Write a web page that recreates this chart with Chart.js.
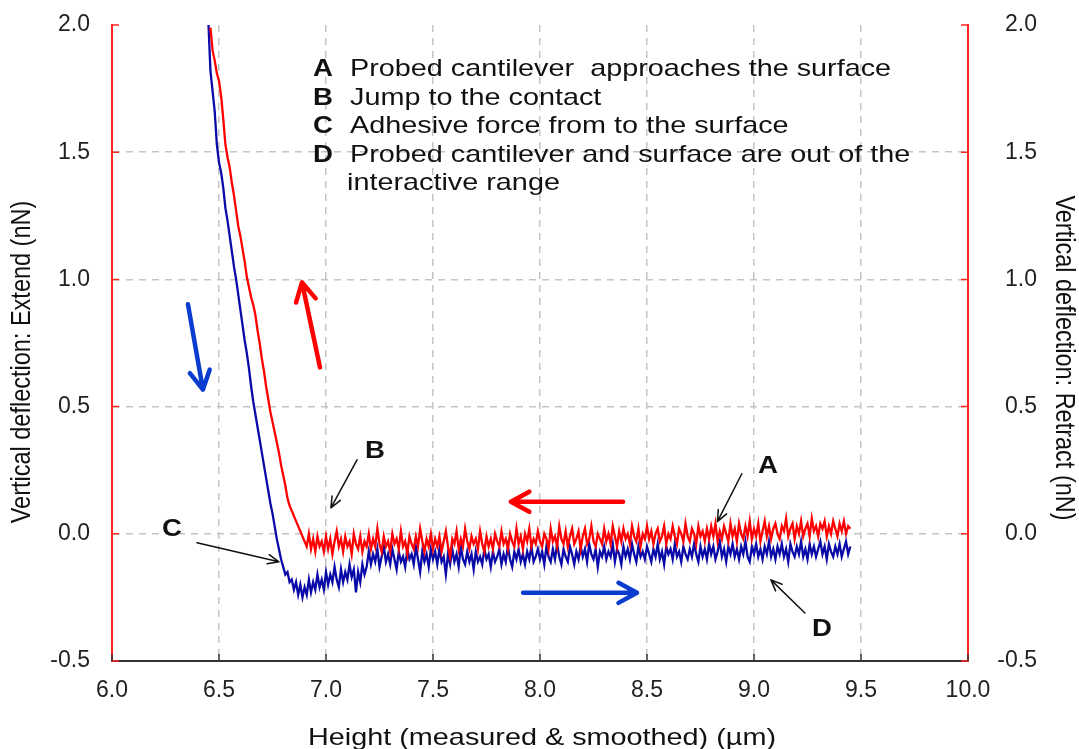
<!DOCTYPE html>
<html>
<head>
<meta charset="utf-8">
<title>Force–distance curve</title>
<script src="https://cdn.jsdelivr.net/npm/chart.js@4.4.1/dist/chart.umd.min.js"></script>
<style>
  html, body { margin: 0; padding: 0; background: #ffffff; }
  #wrap { width: 1079px; height: 749px; }
</style>
</head>
<body>
<div id="wrap"><canvas id="fd" width="1079" height="749"></canvas></div>
<script>
// Piezo height (µm) shared by both sweeps
const heightUm = [
  6.45,6.46,6.47,6.48,6.49,
  6.50,6.51,6.52,6.53,6.54,6.55,6.56,6.57,6.58,6.59,
  6.60,6.61,6.62,6.63,6.64,6.65,6.66,6.67,6.68,6.69,
  6.70,6.71,6.72,6.73,6.74,6.75,6.76,6.77,6.78,6.79,
  6.80,6.81,6.82,6.83,6.84,6.85,6.86,6.87,6.88,6.89,
  6.90,6.91,6.92,6.93,6.94,6.95,6.96,6.97,6.98,6.99,
  7.00,7.01,7.02,7.03,7.04,7.05,7.06,7.07,7.08,7.09,
  7.10,7.11,7.12,7.13,7.14,7.15,7.16,7.17,7.18,7.19,
  7.20,7.21,7.22,7.23,7.24,7.25,7.26,7.27,7.28,7.29,
  7.30,7.31,7.32,7.33,7.34,7.35,7.36,7.37,7.38,7.39,
  7.40,7.41,7.42,7.43,7.44,7.45,7.46,7.47,7.48,7.49,
  7.50,7.51,7.52,7.53,7.54,7.55,7.56,7.57,7.58,7.59,
  7.60,7.61,7.62,7.63,7.64,7.65,7.66,7.67,7.68,7.69,
  7.70,7.71,7.72,7.73,7.74,7.75,7.76,7.77,7.78,7.79,
  7.80,7.81,7.82,7.83,7.84,7.85,7.86,7.87,7.88,7.89,
  7.90,7.91,7.92,7.93,7.94,7.95,7.96,7.97,7.98,7.99,
  8.00,8.01,8.02,8.03,8.04,8.05,8.06,8.07,8.08,8.09,
  8.10,8.11,8.12,8.13,8.14,8.15,8.16,8.17,8.18,8.19,
  8.20,8.21,8.22,8.23,8.24,8.25,8.26,8.27,8.28,8.29,
  8.30,8.31,8.32,8.33,8.34,8.35,8.36,8.37,8.38,8.39,
  8.40,8.41,8.42,8.43,8.44,8.45,8.46,8.47,8.48,8.49,
  8.50,8.51,8.52,8.53,8.54,8.55,8.56,8.57,8.58,8.59,
  8.60,8.61,8.62,8.63,8.64,8.65,8.66,8.67,8.68,8.69,
  8.70,8.71,8.72,8.73,8.74,8.75,8.76,8.77,8.78,8.79,
  8.80,8.81,8.82,8.83,8.84,8.85,8.86,8.87,8.88,8.89,
  8.90,8.91,8.92,8.93,8.94,8.95,8.96,8.97,8.98,8.99,
  9.00,9.01,9.02,9.03,9.04,9.05,9.06,9.07,9.08,9.09,
  9.10,9.11,9.12,9.13,9.14,9.15,9.16,9.17,9.18,9.19,
  9.20,9.21,9.22,9.23,9.24,9.25,9.26,9.27,9.28,9.29,
  9.30,9.31,9.32,9.33,9.34,9.35,9.36,9.37,9.38,9.39,
  9.40,9.41,9.42,9.43,9.44,9.45
];

// Vertical deflection on the approach (extend) sweep, nN
const extendNN = [
  2.02,1.82,1.74,1.66,1.53,
  1.46,1.42,1.36,1.28,1.23,1.17,1.11,1.05,1.00,0.94,
  0.88,0.82,0.76,0.71,0.65,0.58,0.52,0.47,0.42,0.37,
  0.32,0.27,0.22,0.17,0.12,0.08,0.03,-0.02,-0.06,-0.10,
  -0.13,-0.16,-0.15,-0.19,-0.18,-0.22,-0.19,-0.24,-0.20,-0.25,
  -0.21,-0.24,-0.18,-0.23,-0.19,-0.22,-0.16,-0.21,-0.18,-0.22,
  -0.15,-0.20,-0.16,-0.19,-0.13,-0.18,-0.21,-0.14,-0.19,-0.15,
  -0.18,-0.12,-0.17,-0.14,-0.23,-0.15,-0.19,-0.12,-0.16,-0.13,
  -0.07,-0.12,-0.08,-0.11,-0.06,-0.13,-0.09,-0.05,-0.11,-0.08,
  -0.12,-0.06,-0.10,-0.14,-0.07,-0.11,-0.09,-0.13,-0.06,-0.10,
  -0.08,-0.12,-0.05,-0.10,-0.15,-0.07,-0.11,-0.08,-0.13,-0.06,
  -0.10,-0.07,-0.12,-0.06,-0.11,-0.09,-0.16,-0.08,-0.12,-0.06,
  -0.11,-0.08,-0.13,-0.05,-0.10,-0.12,-0.07,-0.11,-0.08,-0.14,
  -0.07,-0.11,-0.09,-0.12,-0.06,-0.10,-0.08,-0.13,-0.07,-0.11,
  -0.09,-0.06,-0.12,-0.08,-0.11,-0.05,-0.10,-0.13,-0.07,-0.10,
  -0.06,-0.11,-0.08,-0.12,-0.07,-0.10,-0.05,-0.11,-0.09,-0.06,
  -0.10,-0.07,-0.12,-0.05,-0.09,-0.11,-0.06,-0.10,-0.04,-0.09,
  -0.12,-0.06,-0.09,-0.11,-0.05,-0.08,-0.12,-0.07,-0.10,-0.05,
  -0.09,-0.06,-0.11,-0.04,-0.08,-0.10,-0.06,-0.13,-0.07,-0.09,
  -0.05,-0.10,-0.07,-0.09,-0.04,-0.11,-0.06,-0.08,-0.12,-0.05,
  -0.09,-0.06,-0.10,-0.04,-0.08,-0.11,-0.05,-0.09,-0.07,-0.10,
  -0.05,-0.08,-0.11,-0.06,-0.09,-0.04,-0.10,-0.07,-0.12,-0.05,
  -0.08,-0.06,-0.10,-0.04,-0.09,-0.07,-0.11,-0.05,-0.08,-0.10,
  -0.06,-0.09,-0.04,-0.08,-0.11,-0.05,-0.09,-0.06,-0.10,-0.04,
  -0.08,-0.05,-0.10,-0.07,-0.03,-0.09,-0.06,-0.11,-0.05,-0.08,
  -0.04,-0.09,-0.06,-0.10,-0.05,-0.08,-0.03,-0.09,-0.11,-0.05,
  -0.08,-0.04,-0.09,-0.06,-0.10,-0.05,-0.08,-0.03,-0.09,-0.06,
  -0.10,-0.05,-0.08,-0.04,-0.09,-0.06,-0.11,-0.04,-0.07,-0.09,
  -0.05,-0.08,-0.03,-0.09,-0.06,-0.10,-0.04,-0.08,-0.05,-0.09,
  -0.06,-0.03,-0.08,-0.05,-0.10,-0.04,-0.07,-0.09,-0.05,-0.08,
  -0.04,-0.09,-0.06,-0.03,-0.08,-0.05
];

// Vertical deflection on the withdrawal (retract) sweep, nN
const retractNN = [
  null,1.99,1.90,1.86,1.81,
  1.78,1.72,1.63,1.53,1.48,1.44,1.38,1.33,1.27,1.21,
  1.17,1.12,1.07,1.01,0.97,0.93,0.90,0.86,0.80,0.75,
  0.69,0.64,0.58,0.53,0.48,0.44,0.40,0.36,0.32,0.27,
  0.23,0.19,0.14,0.11,0.09,0.07,0.05,0.03,0.01,-0.01,
  -0.03,-0.05,0.00,-0.06,-0.02,-0.07,-0.01,-0.05,-0.03,-0.07,
  -0.01,-0.06,-0.02,-0.08,-0.03,0.01,-0.05,-0.02,-0.07,-0.01,
  -0.05,-0.03,-0.08,0.00,-0.04,-0.06,-0.01,-0.07,-0.03,-0.05,
  0.00,-0.06,-0.02,-0.05,0.02,-0.04,-0.07,-0.01,-0.05,-0.03,
  -0.07,0.00,-0.04,-0.02,-0.06,0.01,-0.05,-0.03,-0.08,-0.01,
  -0.04,-0.06,-0.01,-0.05,0.02,-0.03,-0.07,-0.02,-0.05,0.00,
  -0.06,-0.02,-0.05,-0.01,-0.07,-0.03,0.01,-0.05,-0.09,-0.02,
  -0.04,0.01,-0.06,-0.02,-0.05,0.02,-0.03,-0.06,-0.01,-0.04,
  -0.02,-0.06,0.01,-0.04,-0.07,-0.01,-0.05,-0.02,-0.06,0.00,
  -0.03,-0.05,0.01,-0.04,-0.02,-0.06,0.00,-0.03,-0.05,0.02,
  -0.04,-0.01,-0.06,0.00,-0.03,0.02,-0.05,-0.02,-0.04,0.01,
  -0.03,-0.05,0.00,-0.02,-0.06,0.02,-0.03,-0.01,-0.05,0.03,
  -0.02,-0.04,0.01,-0.05,-0.01,0.02,-0.04,-0.02,0.01,-0.06,
  -0.01,0.02,-0.04,-0.02,0.03,-0.03,-0.05,0.00,-0.02,-0.04,
  0.02,-0.03,0.00,-0.04,0.03,-0.01,-0.05,0.01,-0.03,0.02,
  -0.02,0.00,-0.04,0.03,-0.01,-0.03,0.02,-0.05,0.00,-0.02,
  0.03,-0.02,0.01,-0.04,0.00,0.02,-0.03,-0.01,0.03,-0.04,
  0.00,-0.02,0.03,-0.01,-0.04,0.02,0.00,-0.03,0.04,-0.01,
  -0.03,0.02,0.00,-0.04,0.03,-0.01,0.01,-0.03,0.02,-0.02,
  0.03,-0.01,0.04,-0.03,0.01,-0.02,0.03,0.00,-0.03,0.04,
  -0.01,0.02,-0.03,0.04,0.00,-0.02,0.03,-0.01,0.05,-0.02,
  0.02,-0.01,0.04,-0.03,0.01,0.05,-0.01,0.03,-0.02,0.02,
  0.04,0.00,-0.02,0.03,0.01,0.06,-0.01,0.02,0.04,-0.02,
  0.03,0.00,0.05,-0.01,0.02,0.04,-0.01,0.06,0.01,0.03,
  -0.01,0.04,0.02,0.05,-0.01,0.03,0.00,0.05,0.02,-0.01,
  0.04,0.01,0.05,0.00,0.03,0.02
];

// Axis ranges and tick steps
const heightRange = [6.0, 10.0];
const forceRange = [-0.5, 2.0];
const heightStep = 0.5;
const forceStep = 0.5;

// Annotation text
const xTitle = 'Height (measured & smoothed) (µm)';
const yLeftTitle = 'Vertical deflection: Extend (nN)';
const yRightTitle = 'Vertical deflection: Retract (nN)';
const keyLetters = ['A', 'B', 'C', 'D', ''];
const keyTexts = [
  'Probed cantilever  approaches the surface',
  'Jump to the contact',
  'Adhesive force from to the surface',
  'Probed cantilever and surface are out of the',
  'interactive range'
];

// Marker letters with their pointers, in data units [height, force]
const markers = [
  { label: 'A', at: [9.065, 0.264], from: [8.943, 0.236], to: [8.829, 0.048] },
  { label: 'B', at: [7.229, 0.323], from: [7.145, 0.291], to: [7.023, 0.102] },
  { label: 'C', at: [6.280, 0.016], from: [6.397, -0.035], to: [6.780, -0.110] },
  { label: 'D', at: [9.318, -0.378], from: [9.238, -0.311], to: [9.079, -0.181] }
];

// Sweep direction arrows, in data units [height, force]
const sweepArrows = [
  { color: '#0a3ccf', from: [6.355, 0.902], to: [6.425, 0.567] },
  { color: '#ff0000', from: [6.972, 0.654], to: [6.888, 0.988] },
  { color: '#ff0000', from: [8.388, 0.126], to: [7.864, 0.126] },
  { color: '#0a3ccf', from: [7.921, -0.232], to: [8.453, -0.232] }
];

const FONT = '"Liberation Sans", Arial, Helvetica, sans-serif';
const STRETCH = 1.2;
const RED_AXIS = '#ff2626';
const GRID = '#c4c4c4';

function drawArrow(ctx, x1, y1, x2, y2, color, width, head, spread) {
  const ang = Math.atan2(y2 - y1, x2 - x1);
  ctx.save();
  ctx.strokeStyle = color;
  ctx.lineWidth = width;
  ctx.lineCap = 'round';
  ctx.lineJoin = 'round';
  ctx.beginPath();
  ctx.moveTo(x1, y1);
  ctx.lineTo(x2, y2);
  ctx.moveTo(x2 - head * Math.cos(ang - spread), y2 - head * Math.sin(ang - spread));
  ctx.lineTo(x2, y2);
  ctx.lineTo(x2 - head * Math.cos(ang + spread), y2 - head * Math.sin(ang + spread));
  ctx.stroke();
  ctx.restore();
}

function wideText(ctx, text, x, y, font, align, baseline, rotation) {
  ctx.save();
  ctx.translate(x, y);
  ctx.scale(STRETCH, 1);
  if (rotation) ctx.rotate(rotation);
  ctx.font = font;
  ctx.textAlign = align;
  ctx.textBaseline = baseline;
  ctx.fillStyle = '#111';
  ctx.fillText(text, 0, 0);
  ctx.restore();
}

const overlay = {
  id: 'overlay',
  afterDraw(chart) {
    const { ctx, chartArea: area } = chart;
    const xs = chart.scales.x, yl = chart.scales.yExtend, yr = chart.scales.yRetract;
    const X = v => xs.getPixelForValue(v);
    const Y = v => yl.getPixelForValue(v);

    // inward tick marks
    ctx.save();
    ctx.lineWidth = 1.5;
    ctx.strokeStyle = RED_AXIS;
    ctx.beginPath();
    yl.ticks.forEach(t => { const y = yl.getPixelForValue(t.value); ctx.moveTo(area.left, y); ctx.lineTo(area.left + 7, y); });
    yr.ticks.forEach(t => { const y = yr.getPixelForValue(t.value); ctx.moveTo(area.right - 7, y); ctx.lineTo(area.right, y); });
    ctx.stroke();
    ctx.strokeStyle = '#333';
    ctx.beginPath();
    xs.ticks.forEach(t => { const x = X(t.value); ctx.moveTo(x, area.bottom); ctx.lineTo(x, area.bottom - 7); });
    ctx.stroke();
    ctx.restore();

    // sweep direction arrows
    sweepArrows.forEach(a => drawArrow(ctx, X(a.from[0]), Y(a.from[1]), X(a.to[0]), Y(a.to[1]), a.color, 4.5, 21, 0.5));

    // marker letters and pointers
    markers.forEach(m => {
      drawArrow(ctx, X(m.from[0]), Y(m.from[1]), X(m.to[0]), Y(m.to[1]), '#111', 1.5, 12, 0.4);
      wideText(ctx, m.label, X(m.at[0]), Y(m.at[1]), 'bold 23px ' + FONT, 'center', 'middle');
    });

    // key block
    const baseX = area.left + 201, textX = area.left + 238;
    keyTexts.forEach((t, i) => {
      const y = area.top + 51 + i * 28.6;
      if (keyLetters[i]) wideText(ctx, keyLetters[i], baseX, y, 'bold 23px ' + FONT, 'left', 'alphabetic');
      wideText(ctx, t, i === 4 ? textX - 3 : textX, y, '24px ' + FONT, 'left', 'alphabetic');
    });

    // axis titles
    const midY = (area.top + area.bottom) / 2;
    wideText(ctx, xTitle, (area.left + area.right) / 2 + 2, 745, '24px ' + FONT, 'center', 'alphabetic');
    wideText(ctx, yLeftTitle, 22, midY + 19, '23.5px ' + FONT, 'center', 'middle', -Math.PI / 2);
    wideText(ctx, yRightTitle, 1064, midY + 15, '23.5px ' + FONT, 'center', 'middle', Math.PI / 2);
  }
};

const tickFont = { family: FONT, size: 23 };
const fmt = v => Number(v).toFixed(1);
const gridColor = (lo, hi) => c => (c.tick && (Math.abs(c.tick.value - lo) < 1e-6 || Math.abs(c.tick.value - hi) < 1e-6)) ? 'rgba(0,0,0,0)' : GRID;

new Chart(document.getElementById('fd'), {
  type: 'scatter',
  data: {
    datasets: [
      {
        label: 'Retract',
        data: heightUm.map((h, i) => ({ x: h, y: retractNN[i] })),
        yAxisID: 'yRetract',
        showLine: true,
        borderColor: '#ff0000',
        backgroundColor: '#ff0000',
        borderWidth: 2.3,
        pointRadius: 0,
        spanGaps: false
      },
      {
        label: 'Extend',
        data: heightUm.map((h, i) => ({ x: h, y: extendNN[i] })),
        yAxisID: 'yExtend',
        showLine: true,
        borderColor: '#0a0aa8',
        backgroundColor: '#0a0aa8',
        borderWidth: 2.3,
        pointRadius: 0
      }
    ]
  },
  options: {
    responsive: false,
    animation: false,
    devicePixelRatio: 1,
    layout: { padding: { top: 25, left: 0, right: 42, bottom: 0 } },
    plugins: { legend: { display: false }, tooltip: { enabled: false } },
    scales: {
      x: {
        type: 'linear',
        min: heightRange[0],
        max: heightRange[1],
        ticks: { stepSize: heightStep, font: tickFont, color: '#222', padding: 16, maxRotation: 0, callback: fmt },
        grid: { color: gridColor(heightRange[0], heightRange[1]), lineWidth: 1.5, drawTicks: false },
        border: { color: '#333', width: 2, dash: [7, 6] },
        afterFit: s => { s.height = 88; }
      },
      yExtend: {
        type: 'linear',
        position: 'left',
        min: forceRange[0],
        max: forceRange[1],
        ticks: { stepSize: forceStep, font: tickFont, color: '#222', padding: 11, callback: fmt },
        grid: { color: gridColor(forceRange[0], forceRange[1]), lineWidth: 1.5, drawTicks: true, tickLength: 11, tickColor: 'rgba(0,0,0,0)' },
        border: { color: RED_AXIS, width: 2, dash: [7, 6] },
        afterFit: s => { s.width = 112; }
      },
      yRetract: {
        type: 'linear',
        position: 'right',
        min: forceRange[0],
        max: forceRange[1],
        ticks: { stepSize: forceStep, font: tickFont, color: '#222', padding: 11, crossAlign: 'far', callback: fmt },
        grid: { drawOnChartArea: false, drawTicks: true, tickLength: 11, tickColor: 'rgba(0,0,0,0)' },
        border: { color: RED_AXIS, width: 2 },
        afterFit: s => { s.width = 69; }
      }
    }
  },
  plugins: [overlay]
});
</script>
</body>
</html>
